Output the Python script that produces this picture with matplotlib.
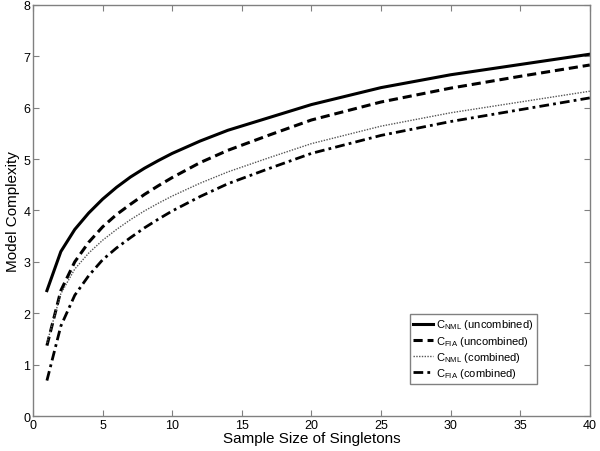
import matplotlib
matplotlib.use("Agg")
import matplotlib.pyplot as plt

plt.rcParams['font.family'] = ['Liberation Sans', 'DejaVu Sans']
plt.rcParams['mathtext.fontset'] = 'custom'
plt.rcParams['mathtext.rm'] = 'Liberation Sans'
plt.rcParams['mathtext.it'] = 'Liberation Sans:italic'

n = [1, 2, 3, 4, 5, 6, 7, 8, 9, 10, 12, 14, 17, 20, 25, 30, 35, 40]
nml_uncombined = [2.44, 3.20, 3.63, 3.95, 4.22, 4.45, 4.65, 4.82, 4.97, 5.11,
                  5.35, 5.56, 5.81, 6.06, 6.39, 6.64, 6.84, 7.04]
fia_uncombined = [1.37, 2.44, 3.00, 3.38, 3.68, 3.92, 4.12, 4.31, 4.48, 4.64,
                  4.93, 5.17, 5.47, 5.76, 6.11, 6.38, 6.61, 6.83]
nml_combined = [1.42, 2.38, 2.86, 3.17, 3.42, 3.63, 3.82, 3.99, 4.14, 4.28,
                4.53, 4.75, 5.03, 5.30, 5.64, 5.90, 6.11, 6.32]
fia_combined = [0.69, 1.75, 2.35, 2.73, 3.04, 3.27, 3.47, 3.66, 3.83, 3.99,
                4.27, 4.52, 4.82, 5.11, 5.46, 5.73, 5.96, 6.19]

labels = [r'C$_{\rm NML}$ (uncombined)', r'C$_{\rm FIA}$ (uncombined)',
          r'C$_{\rm NML}$ (combined)', r'C$_{\rm FIA}$ (combined)']
xticks = [0, 5, 10, 15, 20, 25, 30, 35, 40]
yticks = [0, 1, 2, 3, 4, 5, 6, 7, 8]

fig = plt.figure(figsize=(6, 4.52), dpi=100)
ax = fig.add_axes([0.055, 0.0774, 0.928, 0.9096])

ax.plot(n, nml_uncombined, color='black', lw=2.2, ls='-', label=labels[0])
ax.plot(n, fia_uncombined, color='black', lw=2.2, ls=(0, (3, 1.6)), label=labels[1])
ax.plot(n, nml_combined, color='#555555', lw=1.0, ls=(0, (1, 1)), label=labels[2])
ax.plot(n, fia_combined, color='black', lw=2.0, ls=(0, (3.5, 1.5, 1, 1.5)), label=labels[3])

ax.set_xlim(0, 40)
ax.set_ylim(0, 8)
ax.set_xticks(xticks)
ax.set_yticks(yticks)
for s in ax.spines.values():
    s.set_color('#808080')
    s.set_linewidth(1.0)
ax.tick_params(direction='in', top=True, right=True, length=4, color='#808080',
               labelsize=9, labelcolor='black', pad=2)
ax.set_xlabel('Sample Size of Singletons', fontsize=11, labelpad=0)
ax.set_ylabel('Model Complexity', fontsize=11, labelpad=2)

leg = ax.legend(loc='lower right', bbox_to_anchor=(0.905, 0.078), fontsize=8,
                handlelength=1.8, handletextpad=0.2, borderpad=0.35,
                labelspacing=0.2, borderaxespad=0.0, fancybox=False, framealpha=1,
                edgecolor='#808080')
leg.get_frame().set_linewidth(1.0)

fig.savefig('out.png', dpi=100)
